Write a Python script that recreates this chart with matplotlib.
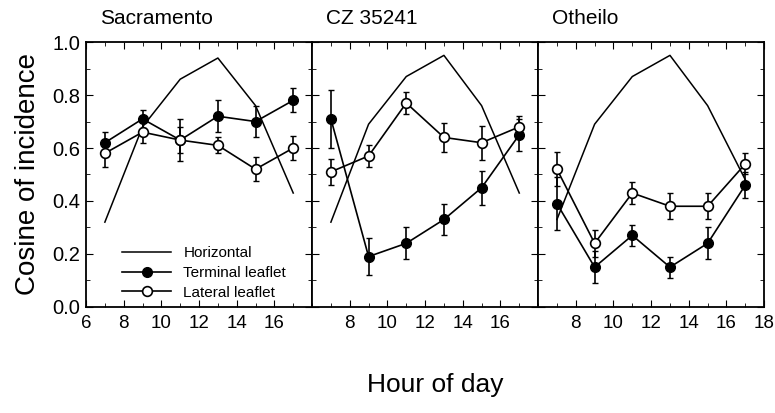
import matplotlib.pyplot as plt
from matplotlib.ticker import MultipleLocator

plt.rcParams['font.family'] = ['Liberation Sans', 'DejaVu Sans']

hours = [7, 9, 11, 13, 15, 17]
sites = ['Sacramento', 'CZ 35241', 'Otheilo']

horizontal = [
    [0.32, 0.68, 0.86, 0.94, 0.76, 0.43],
    [0.32, 0.69, 0.87, 0.95, 0.76, 0.43],
    [0.33, 0.69, 0.87, 0.95, 0.76, 0.48],
]
terminal = [
    [0.62, 0.71, 0.63, 0.72, 0.70, 0.78],
    [0.71, 0.19, 0.24, 0.33, 0.45, 0.65],
    [0.39, 0.15, 0.27, 0.15, 0.24, 0.46],
]
terminal_err = [
    [0.04, 0.035, 0.05, 0.06, 0.06, 0.045],
    [0.11, 0.07, 0.06, 0.06, 0.065, 0.06],
    [0.10, 0.06, 0.04, 0.04, 0.06, 0.05],
]
lateral = [
    [0.58, 0.66, 0.63, 0.61, 0.52, 0.60],
    [0.51, 0.57, 0.77, 0.64, 0.62, 0.68],
    [0.52, 0.24, 0.43, 0.38, 0.38, 0.54],
]
lateral_err = [
    [0.05, 0.04, 0.08, 0.03, 0.045, 0.045],
    [0.05, 0.04, 0.04, 0.055, 0.065, 0.04],
    [0.065, 0.05, 0.04, 0.05, 0.05, 0.04],
]

fig, axes = plt.subplots(1, 3, figsize=(7.75, 4.13), dpi=100, sharey=True)
fig.subplots_adjust(left=0.111, right=0.986, bottom=0.257, top=0.898, wspace=0)

for i, ax in enumerate(axes):
    ax.plot(hours, horizontal[i], color='black', lw=1.1, label='Horizontal')
    # error bars first, then the lines with markers (these carry the legend)
    ax.errorbar(hours, terminal[i], yerr=terminal_err[i], fmt='none',
                ecolor='black', capsize=2, elinewidth=1.2)
    ax.errorbar(hours, lateral[i], yerr=lateral_err[i], fmt='none',
                ecolor='black', capsize=2, elinewidth=1.2)
    ax.plot(hours, terminal[i], color='black', lw=1.2, marker='o', ms=7,
            mfc='black', mec='black', label='Terminal leaflet')
    ax.plot(hours, lateral[i], color='black', lw=1.2, marker='o', ms=7,
            mfc='white', mec='black', mew=1.2, label='Lateral leaflet')
    ax.set_xlim(6, 18)
    ax.set_ylim(0, 1.0)
    ax.xaxis.set_major_locator(MultipleLocator(2))
    ax.xaxis.set_minor_locator(MultipleLocator(1))
    ax.yaxis.set_major_locator(MultipleLocator(0.2))
    ax.yaxis.set_minor_locator(MultipleLocator(0.1))
    ax.tick_params(which='both', direction='in', top=True, right=True)
    ax.tick_params(axis='x', labelsize=13.5, pad=6)
    ax.tick_params(axis='y', labelsize=14.5, pad=4)
    ax.tick_params(which='major', length=5)
    ax.tick_params(which='minor', length=3)
    for s in ax.spines.values():
        s.set_linewidth(1.3)
    ax.set_title(sites[i], loc='left', fontsize=15, x=0.06, pad=13)

axes[0].set_xticks([6, 8, 10, 12, 14, 16])
axes[1].set_xticks([8, 10, 12, 14, 16])
axes[2].set_xticks([8, 10, 12, 14, 16, 18])
axes[0].yaxis.set_major_formatter(plt.FormatStrFormatter('%.1f'))

axes[0].set_ylabel('Cosine of incidence', fontsize=20, labelpad=8)
fig.text(0.561, 0.05, 'Hour of day', ha='center', fontsize=19)

axes[0].legend(loc='lower left', bbox_to_anchor=(0.1, -0.025), frameon=False,
               fontsize=11, handlelength=3.2, labelspacing=0.38, handletextpad=0.8)

fig.savefig('out.png', dpi=100)
